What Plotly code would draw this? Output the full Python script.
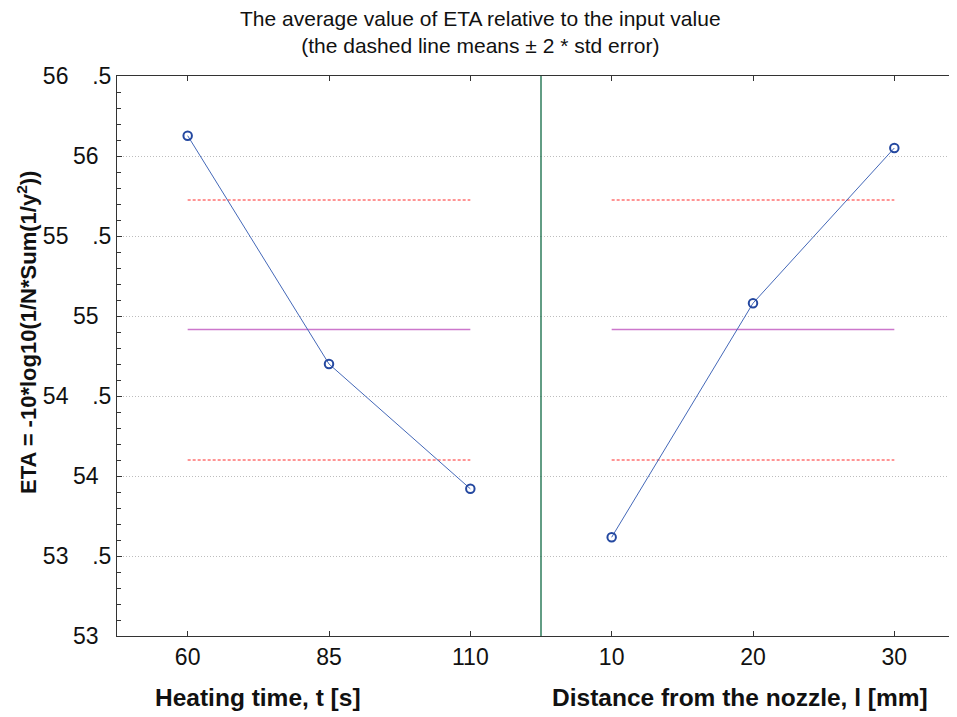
import numpy as np
import plotly.graph_objects as go

# ---- data ----
heat_cats = ["60", "85", "110"]
heat_eta = [56.127, 54.70, 53.92]
dist_cats = ["10", "20", "30"]
dist_eta = [53.617, 55.08, 56.05]
upper_2se = 55.725
lower_2se = 54.10
y_tickvals = [53, 53.5, 54, 54.5, 55, 55.5, 56, 56.5]
NB = "\u00a0"
y_ticktext = ["53" + NB * 2, "53" + NB * 2 + "\u2009 .5", "54" + NB * 2, "54" + NB * 2 + "\u2009 .5",
              "55" + NB * 2, "55" + NB * 2 + "\u2009 .5", "56" + NB * 2, "56" + NB * 2 + "\u2009 .5"]

mean_eta = float(np.mean(heat_eta + dist_eta))

# page body has an 8px margin, so figure coords = screen coords - 8
OFF = 8
W, H = 957 - OFF, 717 - OFF
L, T = 117 - OFF, 76 - OFF
B = H - (636 - OFF)
sep_px = 541 - OFF
split = (sep_px - L) / (W - L)
unit = (sep_px - L) / 3.0
right_max = -0.5 + (W - sep_px) / unit


def px_x(screen_x):
    return (screen_x - OFF - L) / (W - L)


def px_y(screen_y):
    return (H - B - (screen_y - OFF)) / (H - B - T)


FONT = "Liberation Sans, Arial, sans-serif"
line_col = "#4468b8"
mk_col = "#2448a0"

fig = go.Figure()

for cats, vals, xa in [(heat_cats, heat_eta, "x"), (dist_cats, dist_eta, "x2")]:
    fig.add_trace(go.Scatter(x=[cats[0], cats[-1]], y=[upper_2se, upper_2se], xaxis=xa, yaxis="y",
                             mode="lines", line=dict(color="#ff2a2a", width=1, dash="3px,2px"),
                             showlegend=False, hoverinfo="skip"))
    fig.add_trace(go.Scatter(x=[cats[0], cats[-1]], y=[lower_2se, lower_2se], xaxis=xa, yaxis="y",
                             mode="lines", line=dict(color="#ff2a2a", width=1, dash="3px,2px"),
                             showlegend=False, hoverinfo="skip"))
    fig.add_trace(go.Scatter(x=[cats[0], cats[-1]], y=[mean_eta, mean_eta], xaxis=xa, yaxis="y",
                             mode="lines", line=dict(color="#cc77cc", width=1.5),
                             showlegend=False, hoverinfo="skip"))
    fig.add_trace(go.Scatter(x=cats, y=vals, xaxis=xa, yaxis="y", mode="lines+markers",
                             line=dict(color=line_col, width=1),
                             marker=dict(symbol="circle-open", size=8.5, color=mk_col,
                                         line=dict(width=2, color=mk_col)),
                             showlegend=False))

axis_common = dict(type="category", showline=True, linecolor="#333333", linewidth=1,
                   ticks="inside", ticklen=5, tickcolor="#333333", showgrid=False,
                   zeroline=False, tickfont=dict(family=FONT, size=23, color="#111111"),
                   anchor="y", automargin=False)

fig.update_layout(
    width=W, height=H,
    margin=dict(l=L, r=0, t=T, b=B, autoexpand=False),
    paper_bgcolor="white", plot_bgcolor="white",
    xaxis=dict(axis_common, domain=[0, split], range=[-0.5, 2.5], mirror="ticks",
               categoryorder="array", categoryarray=heat_cats),
    xaxis2=dict(axis_common, domain=[split, 1], range=[-0.5, right_max], mirror="ticks",
                categoryorder="array", categoryarray=dist_cats),
    yaxis=dict(range=[53, 56.5], tickvals=y_tickvals, ticktext=y_ticktext,
               showline=True, linecolor="#333333", linewidth=1,
               ticks="inside", ticklen=5, tickcolor="#333333",
               minor=dict(dtick=0.1, tick0=53, ticks="inside", ticklen=4, tickcolor="#333333", showgrid=False),
               showgrid=True, gridcolor="#bdbdbd", gridwidth=1, griddash="1px,2px",
               zeroline=False, tickfont=dict(family=FONT, size=23, color="#111111"),
               anchor="x", automargin=False),
    showlegend=False,
)

fig.add_shape(type="line", xref="paper", yref="paper", x0=split, x1=split, y0=0, y1=1,
              line=dict(color="#2e7d5b", width=1.5))

fig.add_annotation(text="The average value of ETA relative to the input value<br>(the dashed line means \u00b1 2 * std error)",
                   xref="paper", yref="paper", x=px_x(480), xanchor="center", y=1, yanchor="bottom",
                   yshift=17, showarrow=False, align="center",
                   font=dict(family=FONT, size=21, color="#111111"))

fig.add_annotation(text="<b>Heating time, t [s]</b>", xref="paper", yref="paper",
                   x=px_x(258), xanchor="center", y=0, yanchor="top", yshift=-46,
                   showarrow=False, font=dict(family=FONT, size=24.5, color="#111111"))
fig.add_annotation(text="<b>Distance from the nozzle, l [mm]</b>", xref="paper", yref="paper",
                   x=px_x(740), xanchor="center", y=0, yanchor="top", yshift=-46,
                   showarrow=False, font=dict(family=FONT, size=24.5, color="#111111"))
fig.add_annotation(text="<b>ETA = -10*log10(1/N*Sum(1/y<sup>2</sup>))</b>", xref="paper", yref="paper",
                   x=0, xshift=-(L - (27 - OFF)), xanchor="center", y=px_y(333),
                   yanchor="middle", textangle=-90, showarrow=False,
                   font=dict(family=FONT, size=22, color="#111111"))

fig.write_html("out.html")
